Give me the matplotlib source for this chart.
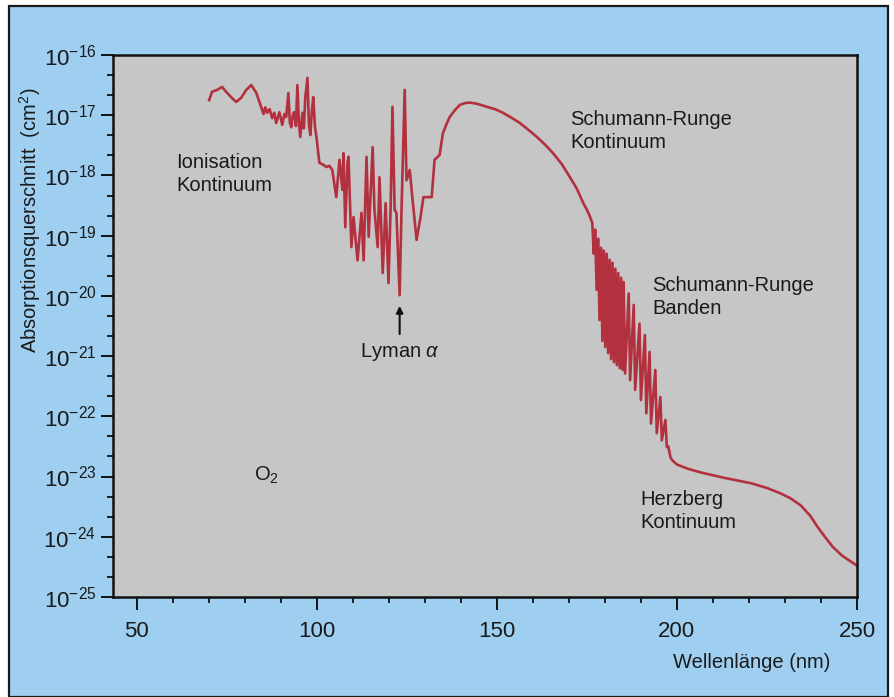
"""O2 Absorptionsquerschnitt (Ionisation, Schumann-Runge, Herzberg)."""

import numpy as np
import matplotlib
matplotlib.use("Agg")
import matplotlib.pyplot as plt
from matplotlib.patches import Rectangle
from matplotlib.ticker import FixedLocator, LogFormatterMathtext, MultipleLocator

FONT = ["Liberation Sans Narrow", "Liberation Sans", "DejaVu Sans"]
plt.rcParams["mathtext.fontset"] = "custom"
plt.rcParams["mathtext.rm"] = "Liberation Sans"
plt.rcParams["mathtext.it"] = "Liberation Sans:italic"

# --- Daten (log10 des Querschnitts in cm^2) ---
# Ionisations-Kontinuum und Lyman-alpha-Bereich
wl_ion = [70.1, 70.9, 72.3, 73.7, 74.8, 76.2, 77.6, 79.0, 80.4, 81.8, 83.2, 84.5,
          85.2, 85.7, 86.2, 86.9, 87.6, 88.2, 88.7, 89.6, 90.4, 91.0, 91.5, 92.1,
          92.5, 92.9, 93.3, 93.7, 94.2, 94.6, 95.0, 95.4, 96.0, 96.4, 96.8, 97.4,
          97.8, 98.2, 98.6, 99.0, 99.5, 99.9, 100.7, 101.7, 102.7, 103.5, 104.3,
          105.4, 106.3, 107.1, 107.4, 107.9, 108.5, 108.8, 109.6, 110.2, 111.3,
          112.4, 113.0, 113.8, 114.4, 115.5, 116.0, 116.9, 117.4, 118.3, 119.1,
          119.9, 120.5, 121.0, 121.6, 122.1, 123.0, 123.5, 124.4, 124.9, 125.8,
          126.6, 127.7, 128.8]
log_ion = [-16.75, -16.61, -16.58, -16.53, -16.61, -16.70, -16.78, -16.71, -16.58,
           -16.50, -16.63, -16.86, -16.98, -16.87, -16.96, -16.90, -17.05, -16.96,
           -17.13, -16.95, -17.16, -16.98, -17.03, -16.63, -17.12, -17.20, -17.00,
           -16.95, -17.18, -16.50, -17.10, -17.36, -16.96, -17.22, -16.70, -16.38,
           -17.15, -17.33, -16.95, -16.70, -17.20, -17.36, -17.79, -17.82, -17.86,
           -17.84, -17.91, -18.36, -17.74, -18.24, -17.63, -18.86, -17.79, -17.69,
           -19.19, -18.69, -19.41, -18.62, -19.41, -17.69, -19.02, -17.53, -18.57,
           -19.19, -18.03, -19.62, -18.46, -19.79, -18.52, -16.86, -18.57, -18.62,
           -19.99, -18.62, -16.58, -18.08, -17.91, -18.41, -19.07, -18.69]

# Schumann-Runge-Kontinuum
wl_src = [129.6, 131.9, 132.7, 134.1, 135.0, 136.0, 136.9, 138.3, 139.7, 141.0,
          142.5, 144.5, 147.2, 149.5, 151.7, 154.0, 156.4, 158.7, 161.1, 163.4,
          165.6, 168.0, 170.3, 172.2, 174.0, 175.0, 175.9]
log_src = [-18.36, -18.36, -17.74, -17.66, -17.30, -17.15, -17.03, -16.92, -16.83,
           -16.80, -16.79, -16.81, -16.86, -16.90, -16.96, -17.04, -17.13, -17.24,
           -17.36, -17.49, -17.63, -17.81, -18.03, -18.22, -18.46, -18.57, -18.69]

# Schumann-Runge-Banden
wl_srb = [176.5, 176.9, 177.3, 177.7, 178.1, 178.5, 178.9, 179.3, 179.7, 180.1,
          180.5, 180.9, 181.3, 181.7, 182.1, 182.5, 182.9, 183.3, 183.7, 184.1,
          184.5, 184.9, 185.2, 185.6, 186.6, 187.0, 188.0, 188.4, 189.6, 190.0,
          191.1, 191.5, 192.4, 192.8, 194.0, 194.4, 195.4, 195.8, 196.8, 197.2,
          197.6, 198.2]
log_srb = [-18.79, -19.30, -18.90, -19.90, -19.05, -20.40, -19.20, -20.75, -19.25,
           -20.85, -19.30, -20.95, -19.40, -21.05, -19.45, -21.10, -19.55, -21.15,
           -19.62, -21.20, -19.70, -21.23, -19.77, -21.29, -19.96, -21.40, -20.15,
           -21.56, -20.46, -21.73, -20.65, -21.95, -20.93, -22.12, -21.23, -22.28,
           -21.68, -22.40, -22.06, -22.51, -22.50, -22.68]

# Herzberg-Kontinuum
wl_hz = [198.7, 200.0, 203.0, 206.5, 213.0, 220.5, 225.0, 228.8, 231.5, 234.4,
         237.0, 239.1, 241.2, 243.3, 246.0, 249.0, 250.0]
log_hz = [-22.73, -22.80, -22.87, -22.93, -23.02, -23.11, -23.19, -23.28, -23.36,
          -23.48, -23.65, -23.84, -24.01, -24.17, -24.32, -24.44, -24.48]

wl = np.array(wl_ion + wl_src + wl_srb + wl_hz)
sigma = 10.0 ** np.array(log_ion + log_src + log_srb + log_hz)

# --- Figur ---
fig = plt.figure(figsize=(8.94, 6.97), dpi=100)
fig.patch.set_facecolor("white")
fig.patches.append(Rectangle((9 / 894, 0), 879 / 894, 691 / 697,
                             transform=fig.transFigure, facecolor="#9fcff0",
                             edgecolor="#1a1a1a", linewidth=1.6, zorder=-10))

ax = fig.add_axes([0.1264, 0.1435, 0.8322, 0.7776])
ax.set_facecolor("#c6c6c6")
ax.plot(wl, sigma, color="#b3303f", linewidth=1.9, solid_joinstyle="round")

ax.set_yscale("log")
ax.set_xlim(43.4, 250)
ax.set_ylim(1e-25, 1e-16)

ax.xaxis.set_major_locator(MultipleLocator(50))
ax.xaxis.set_minor_locator(MultipleLocator(10))
ax.yaxis.set_major_locator(FixedLocator([10.0 ** k for k in range(-25, -15)]))
ax.yaxis.set_minor_locator(FixedLocator(
    [10.0 ** (k + f) for k in range(-25, -16) for f in (1 / 3, 2 / 3)]))
ax.yaxis.set_major_formatter(LogFormatterMathtext())

for side in ax.spines.values():
    side.set_linewidth(1.8)
    side.set_color("#111111")
ax.tick_params(which="major", direction="out", length=9, width=1.4,
               color="#111111", labelsize=16, pad=3)
ax.tick_params(which="minor", direction="out", length=4.5, width=1.3,
               color="#111111")
ax.tick_params(axis="x", which="major", pad=8)
for lab in ax.get_xticklabels() + ax.get_yticklabels():
    lab.set_family(FONT)
    lab.set_color("#1a1a1a")

# --- Beschriftungen ---
txt = dict(fontsize=14.5, color="#1a1a1a", family=FONT, linespacing=1.3)
ax.text(60.9, 10 ** -17.98, "Ionisation\nKontinuum", ha="left", va="center", **txt)
ax.text(170.3, 10 ** -17.26, "Schumann-Runge\nKontinuum", ha="left", va="center", **txt)
ax.text(193.2, 10 ** -20.02, "Schumann-Runge\nBanden", ha="left", va="center", **txt)
ax.text(189.8, 10 ** -23.57, "Herzberg\nKontinuum", ha="left", va="center", **txt)
ax.text(82.6, 10 ** -22.98, "O$_2$", ha="left", va="center", **txt)
ax.text(123.0, 10 ** -20.93, r"Lyman $\alpha$", ha="center", va="center", **txt)
ax.annotate("", xy=(123.0, 10 ** -20.12), xytext=(123.0, 10 ** -20.68),
            arrowprops=dict(arrowstyle="-|>", color="#111111", lw=1.5,
                            mutation_scale=10))

fig.text(30 / 894, 1 - 220 / 697, "Absorptionsquerschnitt  (cm$^2$)",
         rotation=90, ha="center", va="center", fontsize=14.5,
         color="#1a1a1a", family=FONT)
fig.text(830 / 894, 1 - 662 / 697, "Wellenlänge (nm)", ha="right",
         va="center", fontsize=14.5, color="#1a1a1a", family=FONT)

fig.savefig("out.png", dpi=100, facecolor="white")
